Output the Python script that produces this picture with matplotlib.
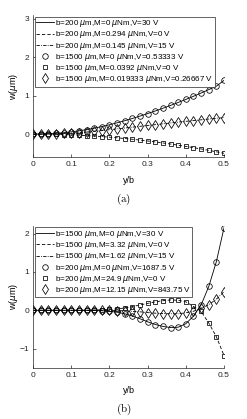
import numpy as np
import matplotlib.pyplot as plt

plt.rcParams['font.family'] = ['Liberation Sans', 'DejaVu Sans']
plt.rcParams['mathtext.fontset'] = 'dejavusans'

# y/b positions
yb = [0.00, 0.02, 0.04, 0.06, 0.08, 0.10, 0.12, 0.14, 0.16, 0.18, 0.20, 0.22, 0.24,
      0.26, 0.28, 0.30, 0.32, 0.34, 0.36, 0.38, 0.40, 0.42, 0.44, 0.46, 0.48, 0.50]

# panel (a)
a_labels = ['b=200 $\\mu$m,M=0 $\\mu$Nm,V=30 V',
            'b=200 $\\mu$m,M=0.294 $\\mu$Nm,V=0 V',
            'b=200 $\\mu$m,M=0.145 $\\mu$Nm,V=15 V',
            'b=1500 $\\mu$m,M=0 $\\mu$Nm,V=0.53333 V',
            'b=1500 $\\mu$m,M=0.0392 $\\mu$Nm,V=0 V',
            'b=1500 $\\mu$m,M=0.019333 $\\mu$Nm,V=0.26667 V']
a_volt = [0.0, 0.002, 0.009, 0.02, 0.036, 0.058, 0.085, 0.117, 0.154, 0.196, 0.243, 0.294,
          0.349, 0.407, 0.469, 0.534, 0.602, 0.673, 0.747, 0.824, 0.903, 0.985, 1.07,
          1.158, 1.248, 1.4]
a_mom = [0.0, -0.001, -0.003, -0.007, -0.013, -0.02, -0.029, -0.039, -0.051, -0.065,
         -0.08, -0.097, -0.115, -0.135, -0.157, -0.18, -0.205, -0.231, -0.259, -0.289,
         -0.32, -0.353, -0.387, -0.423, -0.461, -0.5]
a_mix = [0.0, 0.001, 0.004, 0.009, 0.017, 0.027, 0.04, 0.055, 0.073, 0.093, 0.114, 0.136,
         0.158, 0.18, 0.202, 0.224, 0.246, 0.268, 0.29, 0.311, 0.332, 0.352, 0.372,
         0.392, 0.411, 0.43]

# panel (b)
b_labels = ['b=1500 $\\mu$m,M=0 $\\mu$Nm,V=30 V',
            'b=1500 $\\mu$m,M=3.32 $\\mu$Nm,V=0 V',
            'b=1500 $\\mu$m,M=1.62 $\\mu$Nm,V=15 V',
            'b=200 $\\mu$m,M=0 $\\mu$Nm,V=1687.5 V',
            'b=200 $\\mu$m,M=24.9 $\\mu$Nm,V=0 V',
            'b=200 $\\mu$m,M=12.15 $\\mu$Nm,V=843.75 V']
b_volt = [0.0, 0.0, 0.0, 0.0, 0.0, 0.0, 0.0, 0.0, -0.005, -0.012, -0.025, -0.05,
          -0.09, -0.15, -0.22, -0.3, -0.37, -0.42, -0.45, -0.44, -0.35, -0.15, 0.14,
          0.62, 1.27, 2.15]
b_mom = [0.0, 0.0, 0.0, 0.0, 0.0, 0.0, 0.0, 0.0, 0.005, 0.012, 0.022, 0.038, 0.06,
         0.095, 0.14, 0.18, 0.22, 0.25, 0.27, 0.26, 0.22, 0.1, -0.03, -0.33, -0.69, -1.18]
b_mix = [0.0, 0.0, 0.0, 0.0, 0.0, 0.0, 0.0, 0.0, 0.0, 0.0, -0.002, -0.006, -0.015,
         -0.028, -0.04, -0.06, -0.075, -0.085, -0.09, -0.09, -0.065, -0.025, 0.055,
         0.145, 0.29, 0.485]


def draw_panel(ax, s1, s2, s3, labels, ylim, yticks):
    lw = 0.6
    ax.plot(yb, s1, color='k', linestyle='-', linewidth=lw, label=labels[0])
    ax.plot(yb, s2, color='k', linestyle=(0, (4, 2.5)), linewidth=lw, label=labels[1])
    ax.plot(yb, s3, color='k', linestyle=(0, (4, 1.5, 1, 1.5)), linewidth=lw, label=labels[2])
    mk = dict(color='k', linestyle='none', markerfacecolor='none', markeredgewidth=0.55)
    ax.plot(yb, s1, marker='o', markersize=4.0, label=labels[3], **mk)
    ax.plot(yb, s2, marker='s', markersize=3.3, label=labels[4], **mk)
    ax.plot(yb, s3, marker='d', markersize=4.6, label=labels[5], **mk)
    ax.set_xlim(0, 0.5)
    ax.set_ylim(*ylim)
    ax.set_xticks([0, 0.1, 0.2, 0.3, 0.4, 0.5])
    ax.set_xticklabels(['0', '0.1', '0.2', '0.3', '0.4', '0.5'])
    ax.set_yticks(yticks)
    for s in ['top', 'right']:
        ax.spines[s].set_visible(False)
    for s in ['left', 'bottom']:
        ax.spines[s].set_linewidth(0.5)
        ax.spines[s].set_color('#262626')
    ax.tick_params(direction='in', length=2, width=0.5, labelsize=6, pad=3,
                   colors='#262626')
    ax.set_xlabel('y/b', fontsize=6.5)
    ax.xaxis.set_label_coords(0.5, -0.13)
    ax.set_ylabel('w($\\mu$m)', fontsize=6.5)
    ax.yaxis.set_label_coords(-0.068, 0.5)
    leg = ax.legend(loc='upper left', fontsize=5.8, frameon=True, fancybox=False,
                    framealpha=1, edgecolor='#262626', borderpad=0.2,
                    labelspacing=0.02, handlelength=2.2, handletextpad=0.1,
                    borderaxespad=0.2)
    leg.get_frame().set_linewidth(0.5)


fig = plt.figure(figsize=(2.47, 4.19), dpi=100)
ax1 = fig.add_axes([0.134, 0.625, 0.773, 0.339])
draw_panel(ax1, a_volt, a_mom, a_mix, a_labels, (-0.6, 3.1), [0, 1, 2, 3])
ax2 = fig.add_axes([0.134, 0.122, 0.773, 0.339])
draw_panel(ax2, b_volt, b_mom, b_mix, b_labels, (-1.5, 2.2), [-1, 0, 1, 2])

# sub-figure captions in a Computer Modern look
fig.text(0.5, 1 - 199 / 419, '$\\mathrm{(a)}$', ha='center', va='center',
         fontsize=8, math_fontfamily='cm')
fig.text(0.5, 1 - 409 / 419, '$\\mathrm{(b)}$', ha='center', va='center',
         fontsize=8, math_fontfamily='cm')

fig.savefig('out.png', dpi=100)
